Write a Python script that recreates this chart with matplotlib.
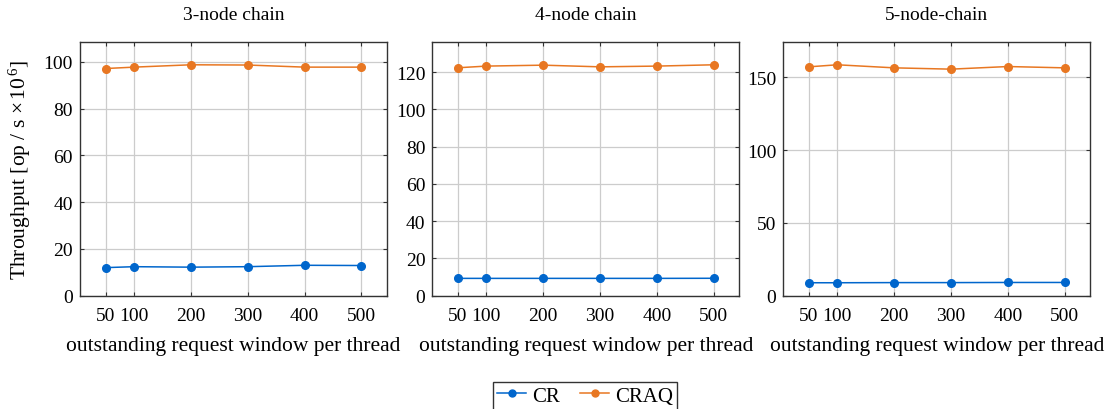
import matplotlib
matplotlib.use("Agg")
import matplotlib.pyplot as plt
from matplotlib.lines import Line2D

plt.rcParams['font.family'] = ['Liberation Serif', 'DejaVu Serif']
plt.rcParams['mathtext.fontset'] = 'custom'
plt.rcParams['mathtext.rm'] = 'Liberation Serif'
plt.rcParams['mathtext.it'] = 'Liberation Serif:italic'

windows = [50, 100, 200, 300, 400, 500]
titles = ["3-node chain", "4-node chain", "5-node-chain"]
cr = [
    [12.0, 12.4, 12.2, 12.4, 13.0, 12.9],
    [9.3, 9.3, 9.3, 9.3, 9.3, 9.35],
    [8.9, 8.9, 9.0, 9.0, 9.1, 9.1],
]
craq = [
    [97.1, 97.7, 98.7, 98.6, 97.7, 97.7],
    [122.3, 123.2, 123.7, 122.8, 123.2, 123.9],
    [157.3, 158.7, 156.6, 155.7, 157.5, 156.6],
]
yticks = [
    [0, 20, 40, 60, 80, 100],
    [0, 20, 40, 60, 80, 100, 120],
    [0, 50, 100, 150],
]
series_names = ["CR", "CRAQ"]
colors = ["#0066cc", "#e87722"]

fig = plt.figure(figsize=(11.1, 4.1), dpi=100)
lefts = [80, 432.3, 783.3]
W, H = 1110, 410
for i in range(3):
    ax = fig.add_axes([lefts[i] / W, 1 - 296.7 / H, 307 / W, (296.7 - 42.7) / H])
    ax.plot(windows, cr[i], color=colors[0], marker='o', markersize=5.5, lw=1.1)
    ax.plot(windows, craq[i], color=colors[1], marker='o', markersize=5.5, lw=1.1)
    ymax = max(craq[i]) * 1.1
    ax.set_ylim(0, ymax)
    ax.set_xlim(5, 545)
    ax.set_xticks(windows)
    ax.set_yticks(yticks[i])
    ax.grid(True, color='#cccccc', lw=0.9)
    ax.set_axisbelow(True)
    ax.tick_params(direction='in', length=3, labelsize=14, color='#333333',
                   top=True, right=True, pad=5)
    ax.tick_params(axis='x', pad=8)
    for s in ax.spines.values():
        s.set_color('#333333')
        s.set_linewidth(1.0)
    ax.set_title(titles[i], fontsize=14, pad=16)
    ax.set_xlabel("outstanding request window per thread", fontsize=15.5, labelpad=9)
    if i == 0:
        ax.set_ylabel(r"Throughput [op / s $\times\,10^{\,6}$]", fontsize=15.5, labelpad=8)

handles = [Line2D([0], [0], color=c, marker='o', markersize=5, lw=1.1) for c in colors]
leg = fig.legend(handles, series_names, loc='upper center', bbox_to_anchor=(0.527, 1 - 383 / H),
                 ncol=2, fontsize=15, frameon=True, fancybox=False, edgecolor='black',
                 handlelength=1.4, columnspacing=1.0, handletextpad=0.25, borderpad=0.2,
                 borderaxespad=0)
leg.get_frame().set_linewidth(1.0)
fig.savefig("out.png", dpi=100)
